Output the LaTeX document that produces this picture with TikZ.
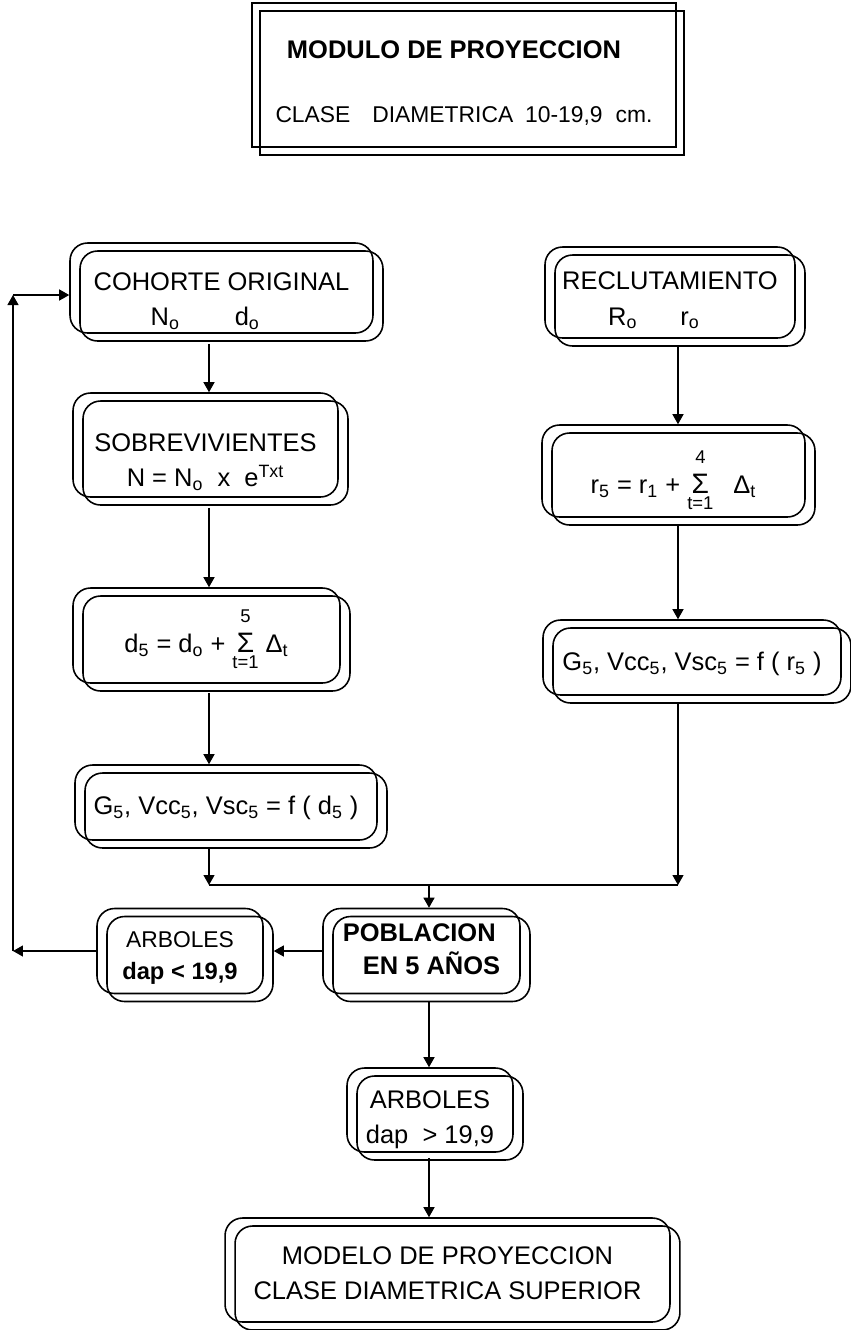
\documentclass[tikz,border=0pt]{standalone}
\usepackage{fontspec}
\setmainfont{Liberation Sans}
\usepackage{tikz}
\usetikzlibrary{arrows.meta, calc, shadows}
\newcommand{\letra}[2]{\fontsize{#1}{#2}\selectfont}
\newcommand{\sumat}[2]{\ensuremath{\mathop{\mbox{\letra{16}{16}Σ}}\limits^{\raisebox{4pt}{\mbox{\letra{10.5}{11}#1}}}_{\raisebox{-3pt}{\mbox{\letra{10.5}{11}#2}}}}}
% texto bajado dentro de la caja
\newcommand{\bajo}[3]{\raisebox{-#1}[\height][\depth]{\begin{tabular}{@{}#2@{}}#3\end{tabular}}}
\tikzstyle{caja} = [draw, rounded corners=0.35cm, line width=0.9pt, align=center, inner sep=0pt, font=\letra{14.5}{20}, general shadow={shadow xshift=0.2cm, shadow yshift=-0.16cm, draw=black, fill=none, line width=0.9pt}]
\tikzstyle{arrow} = [line width=0.7pt,-{Triangle[length=2mm,width=2.2mm]}]

\begin{document}
\begin{tikzpicture}[x=0.02cm, y=-0.02cm]
\useasboundingbox (0,0) rectangle (850,1330);

\node[
draw,
line width=0.9pt,
inner sep=0pt,
general shadow={shadow xshift=0.16cm, shadow yshift=-0.16cm, draw=black, fill=none, line width=0.9pt},
minimum width=8.48cm,
minimum height=2.88cm
] (titulo) at (464,75) {\bajo{0.2cm}{c}{{\bfseries\letra{14.5}{17}MODULO DE PROYECCION}\hspace*{0.4cm}\\[0.84cm]
{\letra{13}{16}CLASE\hspace{0.44cm}DIAMETRICA\hspace{0.24cm}10-19,9\hspace{0.26cm}cm.}}};

% columna izquierda
\node[caja, minimum width=6.06cm, minimum height=1.8cm] (cohorte) at (221.5,288)
{\bajo{0.26cm}{l}{COHORTE ORIGINAL\\\hspace*{1.14cm}N\textsubscript{o}\hspace{1.1cm}d\textsubscript{o}}};
\node[caja, minimum width=5.3cm, minimum height=2.08cm] (sobrev) at (205.5,445)
{\bajo{0.34cm}{c}{SOBREVIVIENTES\\N = N\textsubscript{o}\ \ x\ \ e\textsuperscript{Txt}}};
\node[caja, minimum width=5.34cm, minimum height=1.9cm] (dcinco) at (206.5,635.5)
{\bajo{0.08cm}{c}{d\textsubscript{5} = d\textsubscript{o} + \sumat{5}{t=1}\ Δ\textsubscript{t}}};
\node[caja, minimum width=6.04cm, minimum height=1.5cm] (gizq) at (226,802.5)
{\bajo{0.1cm}{c}{G\textsubscript{5}, Vcc\textsubscript{5}, Vsc\textsubscript{5} = f ( d\textsubscript{5} )}};

% columna derecha
\node[caja, minimum width=5.0cm, minimum height=1.82cm] (reclut) at (670,292.5)
{\bajo{0.16cm}{l}{RECLUTAMIENTO\\\hspace*{0.92cm}R\textsubscript{o}\hspace{0.86cm}r\textsubscript{o}}};
\node[caja, minimum width=5.26cm, minimum height=1.84cm] (rcinco) at (673.5,471)
{\bajo{0.18cm}{c}{r\textsubscript{5} = r\textsubscript{1} + \sumat{4}{t=1}\hspace{0.4cm}Δ\textsubscript{t}}};
\node[caja, minimum width=5.96cm, minimum height=1.5cm] (gder) at (692,657.5)
{\bajo{0.12cm}{c}{G\textsubscript{5}, Vcc\textsubscript{5}, Vsc\textsubscript{5} = f ( r\textsubscript{5} )}};

% parte inferior
\node[caja, font=\bfseries\letra{14.5}{19}, minimum width=3.94cm, minimum height=1.7cm] (poblacion) at (421.5,951)
{\bajo{0cm}{l}{POBLACION\\\hspace*{0.4cm}EN 5 AÑOS}};
\node[caja, font=\letra{13}{18}, minimum width=3.32cm, minimum height=1.7cm] (arbmenor) at (180,951)
{\bajo{0.12cm}{c}{ARBOLES\\{\bfseries\letra{13.5}{18}dap < 19,9}}};
\node[caja, minimum width=3.32cm, minimum height=1.68cm] (arbmayor) at (430,1110)
{\bajo{0.18cm}{c}{ARBOLES\\dap\ \ > 19,9}};
\node[caja, minimum width=8.9cm, minimum height=2.08cm] (modelo) at (447.5,1270)
{\bajo{0.1cm}{c}{MODELO DE PROYECCION\\CLASE DIAMETRICA SUPERIOR}};

\coordinate (izq) at (209,885);
\coordinate (der) at (678,885);
\coordinate (cen) at (429,885);
\coordinate (retA) at (13,951);
\coordinate (retB) at (13,295);

\draw[arrow] ($(izq |- cohorte.south)+(0,-0.2cm)$) -- (izq |- sobrev.north);
\draw[arrow] ($(izq |- sobrev.south)+(0,-0.2cm)$) -- (izq |- dcinco.north);
\draw[arrow] ($(izq |- dcinco.south)+(0,-0.18cm)$) -- (izq |- gizq.north);
\draw[arrow] ($(izq |- gizq.south)+(0,-0.16cm)$) -- (izq);
\draw[arrow] ($(der |- reclut.south)+(0,-0.16cm)$) -- (der |- rcinco.north);
\draw[arrow] ($(der |- rcinco.south)+(0,-0.14cm)$) -- (der |- gder.north);
\draw[arrow] ($(der |- gder.south)+(0,-0.16cm)$) -- (der);
\draw[line width=0.7pt] (izq) -- (der);
\draw[arrow] (cen) -- (cen |- poblacion.north);
\draw[arrow] (poblacion.west) -- ($(arbmenor.east)+(0.2cm,0)$);
\draw[arrow] (arbmenor.west) -- (retA);
\draw[arrow] (retA) -- (retB);
\draw[arrow] (retB) -- (retB -| cohorte.west);
\draw[arrow] ($(cen |- poblacion.south)+(0,-0.14cm)$) -- (cen |- arbmayor.north);
\draw[arrow] ($(cen |- arbmayor.south)+(0,-0.1cm)$) -- (cen |- modelo.north);
\end{tikzpicture}
\end{document}
